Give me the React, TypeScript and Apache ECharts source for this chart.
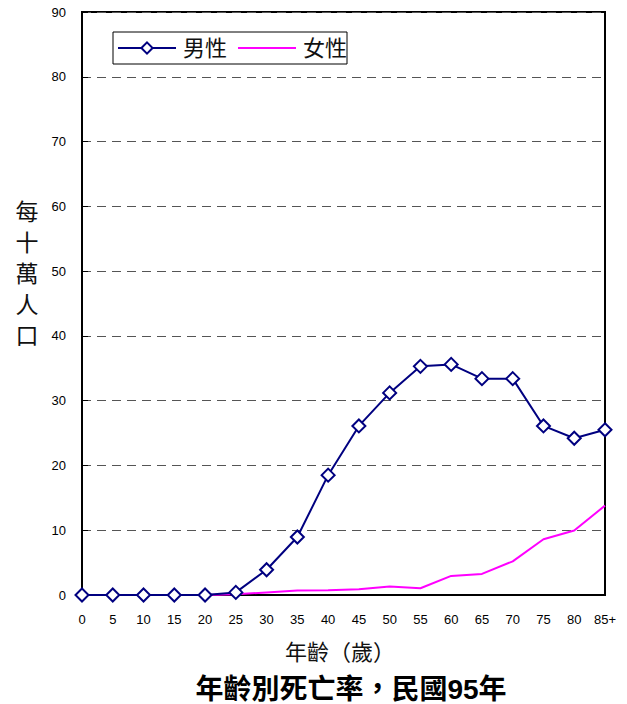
import React, { useEffect, useRef } from "react";
import * as echarts from "echarts";

const ages = ["0", "5", "10", "15", "20", "25", "30", "35", "40", "45", "50", "55", "60", "65", "70", "75", "80", "85+"];
const maleValues = [0, 0, 0, 0, 0, 0.4, 3.9, 8.95, 18.5, 26.1, 31.2, 35.3, 35.6, 33.4, 33.4, 26.1, 24.2, 25.5];
const femaleValues = [0, 0, 0, 0, 0, 0.1, 0.4, 0.7, 0.75, 0.9, 1.3, 1.05, 2.95, 3.25, 5.2, 8.6, 9.95, 13.8];
const yTicks = { min: 0, max: 90, interval: 10 };
const seriesNames = ["男性", "女性"];
const yAxisTitle = "每\n十\n萬\n人\n口";
const xAxisTitle = "年齡（歲）";
const chartTitle = "年齡別死亡率，民國95年";

const FONT = "'Liberation Sans', Arial, 'Noto Sans CJK TC', sans-serif";

export default function App() {
  const ref = useRef<HTMLDivElement>(null);
  useEffect(() => {
    if (!ref.current) return;
    const chart = echarts.init(ref.current, null, { renderer: "svg" });
    chart.setOption({
      animation: false,
      backgroundColor: "#fff",
      textStyle: { fontFamily: FONT },
      grid: {
        left: 82,
        top: 12,
        width: 523,
        height: 583,
        show: true,
        borderColor: "#000",
        borderWidth: 2,
        backgroundColor: "transparent",
      },
      legend: {
        left: 113,
        top: 32,
        orient: "horizontal",
        borderColor: "#000",
        borderWidth: 1,
        padding: [5, 0, 5, 4],
        itemWidth: 58,
        itemHeight: 14,
        itemGap: 10,
        textStyle: { fontSize: 22, color: "#111", fontFamily: FONT, padding: [0, 0, 0, 2] },
        data: [
          { name: seriesNames[0] },
          { name: seriesNames[1], itemStyle: { opacity: 0 } },
        ],
      },
      xAxis: {
        type: "category",
        data: ages,
        boundaryGap: false,
        axisLine: { lineStyle: { color: "#000", width: 2 } },
        axisTick: { show: false },
        axisLabel: { color: "#000", fontSize: 13, margin: 18, fontFamily: FONT },
        splitLine: { show: false },
      },
      yAxis: {
        type: "value",
        min: yTicks.min,
        max: yTicks.max,
        interval: yTicks.interval,
        axisLine: { show: true, lineStyle: { color: "#000", width: 2 } },
        axisTick: { show: true, inside: true, length: 6, lineStyle: { color: "#000", width: 1 } },
        axisLabel: { color: "#000", fontSize: 13, margin: 16, fontFamily: FONT },
        splitLine: { show: true, lineStyle: { color: "#555", type: [9, 6], width: 1 } },
      },
      graphic: [
        {
          type: "text",
          x: 27,
          y: 196,
          style: {
            text: yAxisTitle,
            fontSize: 23,
            lineHeight: 31,
            fill: "#111",
            fontFamily: FONT,
            align: "center",
          },
        },
        {
          type: "text",
          x: 340,
          y: 652,
          style: {
            text: xAxisTitle,
            fontSize: 22,
            fill: "#111",
            fontFamily: FONT,
            align: "center",
            verticalAlign: "middle",
          },
        },
        {
          type: "text",
          x: 351,
          y: 689,
          style: {
            text: chartTitle,
            fontSize: 28,
            fontWeight: "bold",
            fill: "#000",
            fontFamily: FONT,
            align: "center",
            verticalAlign: "middle",
          },
        },
      ],
      series: [
        {
          name: seriesNames[1],
          type: "line",
          data: femaleValues,
          symbol: "none",
          lineStyle: { color: "#FF00FF", width: 2 },
          itemStyle: { color: "#FF00FF" },
          z: 2,
        },
        {
          name: seriesNames[0],
          type: "line",
          data: maleValues,
          symbol: "diamond",
          symbolSize: 13,
          lineStyle: { color: "#000080", width: 2 },
          itemStyle: { color: "#fff", borderColor: "#000080", borderWidth: 2 },
          z: 3,
        },
      ],
    });
    return () => chart.dispose();
  }, []);
  return (
    <div
      ref={ref}
      style={{ position: "fixed", left: 0, top: 0, width: 627, height: 704 }}
    />
  );
}
